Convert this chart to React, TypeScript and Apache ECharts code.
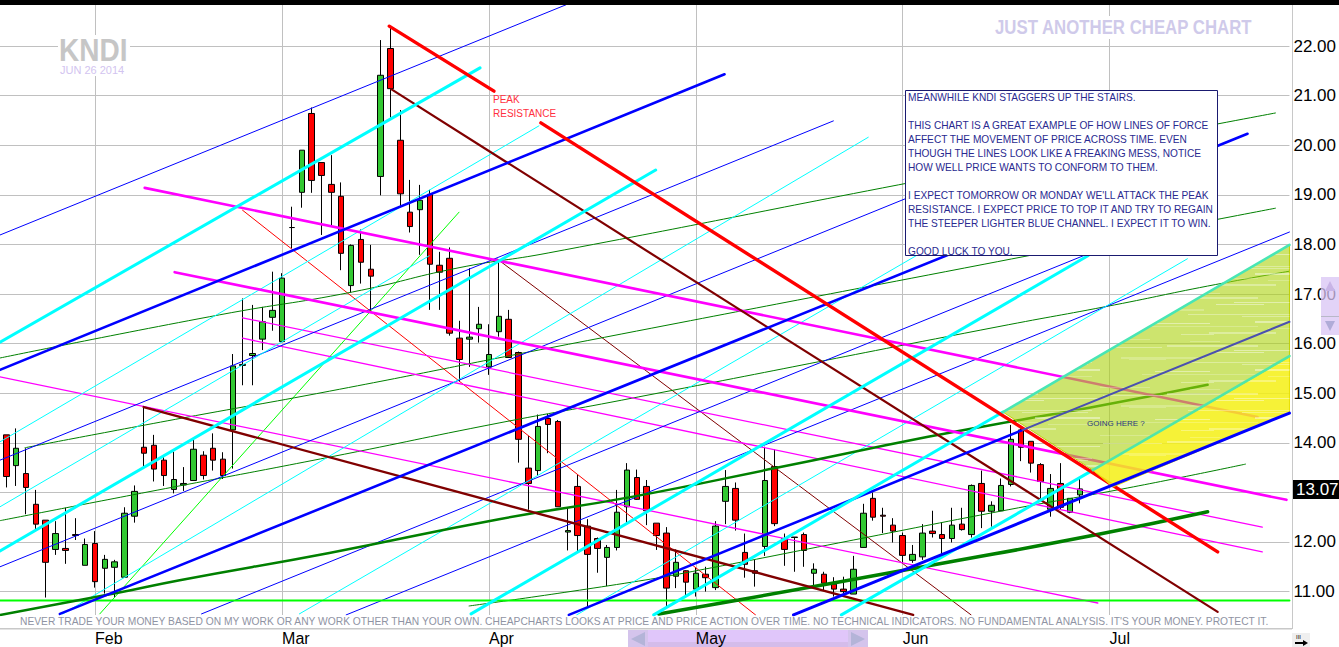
import React, { useEffect, useRef } from "react";
import * as echarts from "echarts";

// ---- Candles (prices), one entry per trading day
const opens = [14.16,13.54,13.38,12.76,12.44,11.85,11.87,12.15,11.53,11.97,11.47,11.49,11.29,12.52,13.91,13.95,13.65,13.06,13.15,13.24,13.75,13.89,13.67,14.26,15.56,15.76,16.09,16.53,16.04,18.34,19.05,20.64,19.65,19.21,18.97,17.17,18.10,17.50,19.37,21.95,20.10,18.65,18.70,19.01,17.58,17.72,16.11,16.09,16.30,15.53,16.24,16.49,15.82,13.49,13.44,14.49,14.43,12.20,13.12,12.32,12.07,11.69,11.89,12.71,13.30,13.12,12.38,12.18,11.31,11.42,11.05,11.35,11.08,12.82,13.08,11.79,11.42,11.91,13.52,12.07,12.10,12.15,11.37,11.35,11.15,11.05,10.95,11.89,12.88,12.54,12.34,12.13,11.63,11.70,12.22,12.15,12.07,12.36,12.15,13.18,12.62,12.63,13.16,14.26,14.03,13.56,12.66,13.18,12.60,12.95];
const closes = [13.32,13.89,13.10,12.36,11.59,12.17,11.83,12.13,11.95,11.20,11.65,11.60,12.58,13.02,13.79,13.47,13.34,13.26,13.18,13.87,13.34,13.65,13.34,15.55,15.58,15.80,16.44,16.67,17.32,18.34,19.90,19.29,19.39,19.05,17.82,17.98,17.64,17.36,21.41,21.14,19.02,18.36,18.89,17.60,17.44,16.21,15.68,16.13,16.39,15.78,16.55,15.72,14.07,13.18,14.33,14.37,12.71,12.23,12.13,11.75,11.87,11.89,12.60,13.45,12.86,12.63,12.13,11.07,11.59,11.19,11.37,11.28,12.32,13.12,12.44,11.55,11.37,13.24,12.37,11.85,12.09,11.83,11.45,11.17,11.05,11.00,11.45,12.58,12.50,12.52,12.22,11.73,11.75,12.18,12.17,12.07,12.34,12.25,13.14,12.62,12.74,13.14,14.07,13.91,13.59,13.22,13.08,12.70,12.88,13.07];
const lows = [13.10,13.13,12.56,12.26,10.88,11.74,11.56,12.04,11.53,11.08,10.96,10.88,11.29,12.39,13.53,13.22,13.13,12.98,13.03,13.24,13.26,13.44,13.27,13.48,15.16,15.16,15.87,16.26,16.04,17.92,18.74,19.04,18.19,18.37,17.48,17.03,17.21,16.64,18.99,20.56,18.77,18.24,17.79,16.68,16.68,16.16,15.23,15.53,16.02,15.37,16.14,15.72,13.60,12.65,13.33,13.79,12.71,11.83,11.80,10.70,11.38,11.11,11.83,12.38,12.85,12.34,11.84,10.70,11.07,10.90,10.90,11.00,11.03,12.36,12.23,11.28,11.10,11.72,12.32,11.52,11.40,11.50,11.13,11.02,10.90,10.90,10.95,11.89,12.43,12.18,11.99,11.57,11.58,11.64,12.09,11.70,11.99,12.23,12.09,12.28,12.31,12.63,13.12,13.63,13.40,12.88,12.51,12.65,12.58,12.78];
const highs = [14.16,14.29,13.89,13.05,12.44,12.42,12.69,12.48,12.07,12.22,11.74,11.64,12.70,13.14,14.73,14.16,13.71,13.82,13.51,14.06,13.83,14.19,13.81,15.79,16.91,16.78,16.74,17.45,17.42,18.76,19.90,20.76,19.65,19.80,19.25,18.00,18.30,17.99,22.12,22.40,20.71,19.30,19.20,19.10,17.85,17.94,16.46,17.52,16.74,16.39,17.67,16.68,15.84,14.14,14.57,14.58,14.46,12.70,13.35,12.46,12.09,11.94,13.05,13.59,13.46,13.25,12.38,12.30,11.85,11.43,11.48,11.50,12.42,13.45,13.20,12.17,11.64,13.92,13.87,12.17,12.10,12.19,11.57,11.40,11.29,11.30,11.72,12.77,13.00,12.69,12.48,12.19,11.94,12.36,12.63,12.40,12.69,12.69,13.16,13.44,12.82,13.28,14.36,14.29,14.03,13.59,13.37,13.59,12.88,13.28];
const lastClose = 13.07;

// ---- Axes
const gridPrices = [11,12,13,14,15,16,17,18,19,20,21,22];
const labelPrices = [11,12,14,15,16,17,18,19,20,21,22];
const monthSlots = [9,28,49,70,91,112];
const monthNames = ["Feb","Mar","Apr","May","Jun","Jul"];

// ---- Trend lines as [trading-day slot, price]
const thickBlue1 = [[5.44,10.55],[126.0,20.23]];
const thickBlue2 = [[-0.64,15.47],[72.91,21.43]];
const thickBlue3 = [[57.11,10.53],[103.2,14.26]];
const blue3Ext = [[103.2,14.26],[130.26,16.44]];
const thickBlue4 = [[79.91,10.53],[130.26,14.60]];
const thinBlue1 = [[-0.64,18.19],[56.8,22.83]];
const thinBlue2 = [[-0.64,13.65],[83.96,20.49]];
const thinBlue3 = [[-0.64,11.50],[100.67,19.68]];
const thinBlue4 = [[19.82,10.55],[110.8,17.89]];
const thinBlue5 = [[34.5,10.53],[130.26,18.25]];
const thickCyan1 = [[-0.64,16.03],[48.09,21.56]];
const thickCyan2 = [[-0.64,11.82],[65.92,19.50]];
const thickCyan3 = [[47.18,10.55],[109.8,17.77]];
const thickCyan4 = [[65.72,10.53],[101.18,14.62]];
const cyan4Shaded = [[101.18,14.62],[130.26,17.99]];
const thickCyan5 = [[84.77,10.53],[110.3,13.45]];
const cyan5Shaded = [[110.3,13.45],[130.26,15.75]];
const thinCyan1 = [[-0.64,14.02],[54.07,20.39]];
const thinCyan2 = [[-0.64,12.71],[42.93,17.77]];
const thinCyan3 = [[5.74,10.55],[87.5,20.16]];
const thinCyan4 = [[29.75,10.55],[100.67,18.73]];
const thinCyan5 = [[57.9,10.53],[119.9,17.71]];
const thickMagenta1 = [[14.05,19.14],[127.02,14.52]];
const thickMagenta2 = [[17.09,17.44],[129.96,12.85]];
const thinMagenta1 = [[-0.64,15.33],[110.8,10.77]];
const thinMagenta2 = [[23.98,16.52],[127.5,12.30]];
const thinMagenta3 = [[23.98,16.11],[127.5,11.80]];
const thickBrown1 = [[39.07,21.13],[122.97,10.59]];
const thickBrown2 = [[13.95,14.72],[92.06,10.53]];
const thinBrown = [[49.81,17.71],[97.94,10.53]];
const peakUpper = [[38.87,22.40],[49.51,21.09]];
const peakLower = [[54.27,20.45],[122.97,11.80]];
const thinRed = [[23.98,18.69],[76.06,10.53]];
const thinLime = [[9.49,10.55],[45.96,18.65]];
const supportLime = [[-0.64,10.82],[130.26,10.82]];
const thickGreen1 = [[-0.64,10.53],[11.21,10.97],[17.6,11.23],[32.79,11.78],[50.02,12.46],[63.49,12.91],[78.08,13.49],[93.58,14.12],[102.9,14.46],[109.8,14.70],[121.95,15.17]];
const thickGreen2 = [[66.23,10.55],[74.33,10.83],[95.3,11.58],[110.5,12.14],[121.95,12.61]];
const thinGreen1 = [[-0.64,15.71],[21.65,16.58],[35.12,17.04],[45.96,17.53],[55.08,17.83],[90.55,19.20],[128.84,20.65]];
const thinGreen2 = [[1.89,13.90],[17.9,14.50],[32.79,15.04],[55.08,15.91],[99.26,17.60],[128.84,18.73]];
const thinGreen3 = [[-0.64,12.43],[12.83,12.95],[32.79,13.71],[50.02,14.40],[62.48,14.86],[100.67,16.34],[112.5,16.78],[121.95,17.16],[130.26,17.46]];
const thinGreen4 = [[46.98,10.71],[63.49,11.19],[71.6,11.48],[84.46,11.98],[101.7,12.65],[113.85,13.09],[125.8,13.57]];

// ---- Shaded projection zones
const greenZone = [[101.18,14.62],[130.26,17.99],[130.26,15.73],[110.3,13.45]];
const yellowZone = [[110.3,13.45],[130.26,15.73],[130.26,14.60],[112.33,13.11]];

// ---- Texts
const noteLines = [
  "MEANWHILE KNDI STAGGERS UP THE STAIRS.",
  "",
  "THIS CHART IS A GREAT EXAMPLE OF HOW LINES OF FORCE",
  "AFFECT THE MOVEMENT OF PRICE ACROSS TIME. EVEN",
  "THOUGH THE LINES LOOK LIKE A FREAKING MESS, NOTICE",
  "HOW WELL PRICE WANTS TO CONFORM TO THEM.",
  "",
  "I EXPECT TOMORROW OR MONDAY WE'LL ATTACK THE PEAK",
  "RESISTANCE. I EXPECT PRICE TO TOP IT AND TRY TO REGAIN",
  "THE STEEPER LIGHTER BLUE CHANNEL. I EXPECT IT TO WIN.",
  "",
  "GOOD LUCK TO YOU.",
];
const footer = "NEVER TRADE YOUR MONEY BASED ON MY WORK OR ANY WORK OTHER THAN YOUR OWN. CHEAPCHARTS LOOKS AT PRICE AND PRICE ACTION OVER TIME. NO TECHNICAL INDICATORS. NO FUNDAMENTAL ANALYSIS. IT'S YOUR MONEY. PROTECT IT.";

const SANS = "'Liberation Sans', Arial, sans-serif";

const line = (name: string, data: number[][], color: string, width: number, smooth = false, z = 3) => ({
  type: "line", name, data, smooth, symbol: "none", silent: true, z,
  lineStyle: { color, width, cap: "round" },
});

const zone = (name: string, pts: number[][], fill: any, stroke: string) => ({
  type: "custom", name, data: pts, silent: true, z: 4,
  encode: { x: 0, y: 1 },
  renderItem: (p: any, api: any) =>
    p.dataIndex === 0
      ? { type: "polygon", shape: { points: pts.map((v) => api.coord(v)) }, style: { fill, stroke, lineWidth: 1 } }
      : null,
});

// Soft pale streaks that give the hand-shaded look of the two zones.
function streakTexture() {
  const c = document.createElement("canvas");
  c.width = 220;
  c.height = 48;
  const g = c.getContext("2d")!;
  const rows = [3, 9, 14, 21, 26, 33, 38, 44];
  rows.forEach((y, i) => {
    g.fillStyle = `rgba(255,255,255,${0.22 + (i % 3) * 0.1})`;
    g.fillRect((i * 67) % 180, y, 50 + (i * 41) % 90, 1 + (i % 2));
    g.fillRect((i * 113 + 90) % 200, y + 2, 30 + (i * 29) % 40, 1);
  });
  return c;
}

export default function App() {
  const ref = useRef<HTMLDivElement>(null);
  useEffect(() => {
    const chart = echarts.init(ref.current!, undefined, { renderer: "svg" });
    const BLUE = "#0000ff", CYAN = "#00ffff", MAG = "#ff00ff", BROWN = "#800000", RED = "#ff0000", GREEN = "#008000", LIME = "#00ff00";
    const texture = { image: streakTexture(), repeat: "repeat" };
    const graphic: any[] = [
      { type: "rect", z: 50, shape: { x: 0, y: 0, width: 1339, height: 5 }, style: { fill: "#000" } },
      { type: "rect", z: 50, shape: { x: 1292, y: 5, width: 1, height: 624 }, style: { fill: "#c8c8c8" } },
      { type: "rect", z: 50, shape: { x: 0, y: 628, width: 1292, height: 1.5 }, style: { fill: "#c8c8c8" } },
      // footer
      { type: "text", z: 50, x: 20, y: 621, style: { text: footer, fill: "#8f93a3", font: `10.25px ${SANS}`, verticalAlign: "middle" } },
      // watermarks
      { type: "rect", z: 5, shape: { x: 58, y: 35, width: 72, height: 41 }, style: { fill: "#fff" } },
      { type: "text", z: 6, x: 59, y: 35, scaleY: 1.1, style: { text: "KNDI", fill: "#c6c6c6", font: `bold 28px ${SANS}` } },
      { type: "text", z: 6, x: 60, y: 64, style: { text: "JUN 26 2014", fill: "#d2c4f0", font: `11px ${SANS}` } },
      { type: "rect", z: 5, shape: { x: 992, y: 16, width: 264, height: 23 }, style: { fill: "#fff" } },
      { type: "text", z: 6, x: 995, y: 17, scaleY: 1.2, style: { text: "JUST ANOTHER CHEAP CHART", fill: "#cfcaea", font: `bold 16.8px ${SANS}` } },
      // note box
      { type: "rect", z: 100, shape: { x: 905.5, y: 90.5, width: 312, height: 165 }, style: { fill: "#fff", stroke: "#1a1a70", lineWidth: 1 } },
      ...noteLines.map((t, i) => ({
        type: "text", z: 101, x: 908, y: 97 + i * 14,
        style: { text: t, fill: "#2a2a90", font: `10.13px ${SANS}`, verticalAlign: "middle" },
      })),
      // annotations
      { type: "text", z: 90, x: 493, y: 99, style: { text: "PEAK", fill: "#ff3040", font: `10px ${SANS}`, verticalAlign: "middle" } },
      { type: "text", z: 90, x: 493, y: 113, style: { text: "RESISTANCE", fill: "#ff3040", font: `10px ${SANS}`, verticalAlign: "middle" } },
      { type: "text", z: 90, x: 1087, y: 423, style: { text: "GOING HERE ?", fill: "#2a3a80", font: `8px ${SANS}`, verticalAlign: "middle" } },
      // last price tag
      { type: "rect", z: 60, shape: { x: 1293, y: 480, width: 46, height: 19 }, style: { fill: "#000" } },
      { type: "text", z: 61, x: 1296, y: 489.5, style: { text: lastClose.toFixed(2), fill: "#fff", font: `17px ${SANS}`, verticalAlign: "middle" } },
      // vertical scroller
      { type: "rect", z: 70, shape: { x: 1321, y: 277, width: 18, height: 58 }, style: { fill: "#d8c4f4", opacity: 0.75 } },
      { type: "rect", z: 71, shape: { x: 1321, y: 316, width: 18, height: 1 }, style: { fill: "#b8b8c8" } },
      { type: "polygon", z: 71, shape: { points: [[1330, 281], [1325, 291], [1335, 291]] }, style: { fill: "#c8b4e6" } },
      { type: "polygon", z: 71, shape: { points: [[1330, 331], [1325, 321], [1335, 321]] }, style: { fill: "#b0acd8" } },
      // horizontal scroller
      { type: "rect", z: -1, shape: { x: 628, y: 630, width: 240, height: 17 }, style: { fill: "#e0c6fa" } },
      { type: "rect", z: -1, shape: { x: 628, y: 642, width: 240, height: 5 }, style: { fill: "#d4bcea" } },
      { type: "rect", z: -1, shape: { x: 628, y: 630, width: 20, height: 17 }, style: { fill: "#d4c4ec" } },
      { type: "rect", z: -1, shape: { x: 848, y: 630, width: 20, height: 17 }, style: { fill: "#d4c4ec" } },
      { type: "polygon", z: -1, shape: { points: [[631, 639], [645, 632], [645, 646]] }, style: { fill: "#b4b4d8" } },
      { type: "polygon", z: -1, shape: { points: [[865, 639], [851, 632], [851, 646]] }, style: { fill: "#b4b4d8" } },
      // resize corner
      { type: "rect", z: 50, shape: { x: 1292, y: 633, width: 18, height: 14 }, style: { fill: "#efefef" } },
      { type: "text", z: 51, x: 1296, y: 634, style: { text: "III", fill: "#000", font: `6px ${SANS}` } },
      { type: "rect", z: 51, shape: { x: 1295, y: 642, width: 10, height: 2 }, style: { fill: "#000" } },
      { type: "polygon", z: 51, shape: { points: [[1308, 643], [1303, 640], [1303, 646]] }, style: { fill: "#000" } },
    ];
    const option: any = {
      animation: false,
      backgroundColor: "#fff",
      grid: { left: 0, right: 47, top: 5, bottom: 32, containLabel: false },
      xAxis: {
        type: "value", min: -0.64, max: 130.26, position: "bottom",
        axisLine: { show: false },
        axisTick: { show: false, customValues: monthSlots },
        splitLine: { show: true, lineStyle: { color: "#c0c0c0", width: 1 } },
        axisLabel: {
          customValues: monthSlots, margin: 23, fontSize: 16, fontFamily: SANS, align: "left",
          verticalAlign: "middle", showMinLabel: true, showMaxLabel: true,
          color: (v: number) => (v === 70 ? "#3a2a70" : "#000"),
          formatter: (v: number) => monthNames[monthSlots.indexOf(v)] ?? "",
        },
      },
      yAxis: {
        type: "value", min: 10.528, max: 22.827, position: "right",
        axisLine: { show: false },
        axisTick: { show: false, customValues: gridPrices },
        splitLine: { show: true, lineStyle: { color: "#c0c0c0", width: 1 } },
        axisLabel: {
          customValues: labelPrices, margin: 4, fontSize: 17, fontFamily: SANS, color: "#000",
          formatter: (v: number) => v.toFixed(2),
        },
      },
      graphic: { elements: graphic },
      series: [
        {
          type: "candlestick", name: "KNDI", barWidth: 6, silent: true,
          encode: { x: 0, y: [1, 2, 3, 4] },
          data: opens.map((o, i) => [i, o, closes[i], lows[i], highs[i]]),
          itemStyle: { color: "#32c832", color0: "#ff0000", borderColor: "#000", borderColor0: "#000", borderColorDoji: "#000", borderWidth: 1 },
        },
        line("thinLime", thinLime, LIME, 1),
        line("thinRed", thinRed, RED, 1),
        line("thinBrown", thinBrown, BROWN, 1),
        line("thinGreen1", thinGreen1, GREEN, 1, true),
        line("thinGreen2", thinGreen2, GREEN, 1, true),
        line("thinGreen3", thinGreen3, GREEN, 1, true),
        line("thinGreen4", thinGreen4, GREEN, 1, true),
        line("thinMagenta1", thinMagenta1, MAG, 1.3),
        line("thinMagenta2", thinMagenta2, MAG, 1.3),
        line("thinMagenta3", thinMagenta3, MAG, 1.3),
        line("thinBlue1", thinBlue1, BLUE, 1),
        line("thinBlue2", thinBlue2, BLUE, 1),
        line("thinBlue3", thinBlue3, BLUE, 1),
        line("thinBlue4", thinBlue4, BLUE, 1),
        line("thinBlue5", thinBlue5, BLUE, 1),
        line("thinCyan1", thinCyan1, CYAN, 1),
        line("thinCyan2", thinCyan2, CYAN, 1),
        line("thinCyan3", thinCyan3, CYAN, 1),
        line("thinCyan4", thinCyan4, CYAN, 1),
        line("thinCyan5", thinCyan5, CYAN, 1),
        line("support", supportLime, LIME, 2),
        line("thickGreen1", thickGreen1, GREEN, 2.5, true),
        line("thickGreen2", thickGreen2, GREEN, 3.5, true),
        line("thickMagenta1", thickMagenta1, MAG, 2.6),
        line("thickMagenta2", thickMagenta2, MAG, 2.6),
        line("thickBrown1", thickBrown1, BROWN, 2.2),
        line("thickBrown2", thickBrown2, BROWN, 2.4),
        line("thickBlue1", thickBlue1, BLUE, 2.6),
        line("thickBlue2", thickBlue2, BLUE, 2.6),
        line("thickBlue3", thickBlue3, BLUE, 2.6),
        line("thickCyan1", thickCyan1, CYAN, 3),
        line("thickCyan2", thickCyan2, CYAN, 3),
        line("thickCyan3", thickCyan3, CYAN, 3),
        line("thickCyan4", thickCyan4, CYAN, 3),
        line("thickCyan5", thickCyan5, CYAN, 3),
        line("peakUpper", peakUpper, RED, 3.4),
        line("peakLower", peakLower, RED, 3.4),
        zone("greenZone", greenZone, "rgba(172,210,13,0.6)", "#c0d000"),
        zone("yellowZone", yellowZone, "rgba(245,240,20,0.85)", "#e8e000"),
        zone("greenStreaks", greenZone, texture, "none"),
        zone("yellowStreaks", yellowZone, texture, "none"),
        line("blue3Ext", blue3Ext, "#4a50b0", 2, false, 5),
        line("cyan4Shaded", cyan4Shaded, "#48e6b4", 2.6, false, 5),
        line("cyan5Shaded", cyan5Shaded, "#50e6a8", 2.6, false, 5),
        line("thickBlue4", thickBlue4, BLUE, 3, false, 5),
      ],
    };
    chart.setOption(option);
    return () => chart.dispose();
  }, []);
  return <div ref={ref} style={{ position: "absolute", left: 0, top: 0, width: 1339, height: 647 }} />;
}
